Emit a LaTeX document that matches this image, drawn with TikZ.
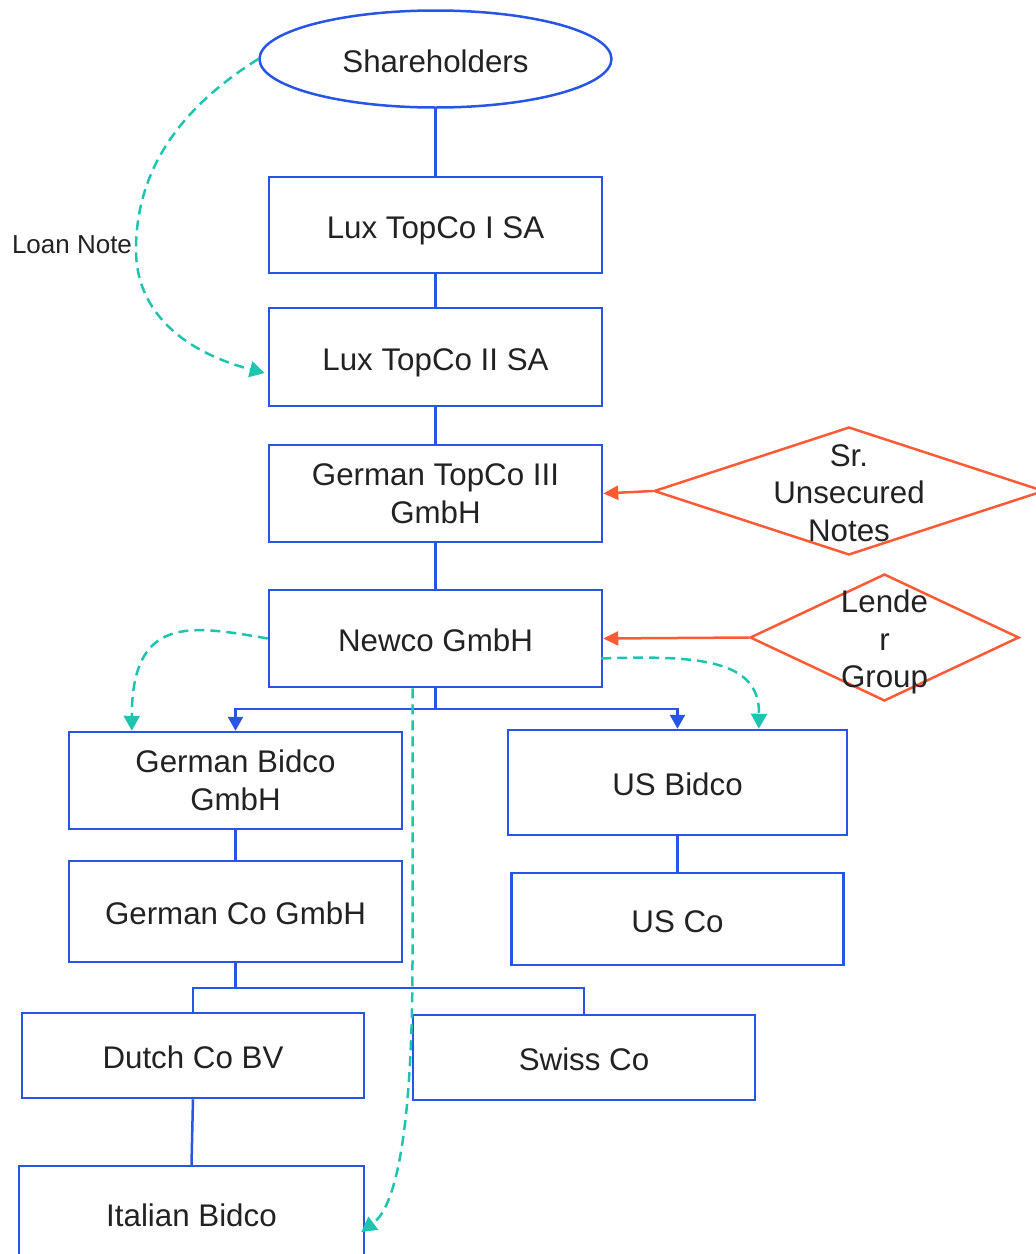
\documentclass[tikz,border=0pt]{standalone}
\usepackage{fontspec}
\setmainfont{Liberation Sans}
\usetikzlibrary{shapes.geometric,arrows.meta,calc}
\definecolor{entblue}{HTML}{2756E6}
\definecolor{noteorange}{HTML}{FF5A36}
\definecolor{loanteal}{HTML}{1EC4B0}
\definecolor{inktext}{HTML}{222222}
\begin{document}
\begin{tikzpicture}[x=1pt,y=-1pt,
  entity/.style={draw=entblue, line width=2.5pt, rectangle, inner sep=0pt,
    text=inktext, align=center, font=\fontsize{31.3}{37.5}\selectfont},
  oneline/.style={text height=33.3pt, text depth=6.6pt},
  holder/.style={entity, ellipse},
  source/.style={draw=noteorange, line width=2.5pt, diamond, inner sep=0pt},
  srctext/.style={text=inktext, align=center, inner sep=0pt,
    font=\fontsize{31.3}{37.5}\selectfont},
  own/.style={draw=entblue, line width=2.5pt},
  ownarrow/.style={own, -{Triangle[length=14pt,width=15pt]}},
  fund/.style={draw=noteorange, line width=2.5pt, -{Triangle[length=15pt,width=14pt]}},
  loan/.style={draw=loanteal, line width=2.5pt, dash pattern=on 10pt off 6pt,
    -{Triangle[length=15pt,width=16pt]}},
]
\useasboundingbox (0,0) rectangle (1036,1254);

% ownership chain
\node[holder, oneline, minimum width=352pt, minimum height=97pt] (share) at (435.5,59) {Shareholders};
\node[entity, oneline, minimum width=333pt, minimum height=96pt] (lux1) at (435.5,225) {Lux TopCo I SA};
\node[entity, oneline, minimum width=333pt, minimum height=98pt] (lux2) at (435.5,357) {Lux TopCo II SA};
\node[entity, minimum width=333pt, minimum height=97pt] (topco3) at (435.5,493.5) {German TopCo III\\GmbH};
\node[entity, oneline, minimum width=333pt, minimum height=97pt] (newco) at (435.5,638.5) {Newco GmbH};
\node[entity, minimum width=333pt, minimum height=97pt] (gbid) at (235.5,780.5) {German Bidco\\GmbH};
\node[entity, oneline, minimum width=339pt, minimum height=105pt] (usbid) at (677.5,782.5) {US Bidco};
\node[entity, oneline, minimum width=333pt, minimum height=101pt] (gco) at (235.5,911.5) {German Co GmbH};
\node[entity, oneline, minimum width=332pt, minimum height=92pt] (usco) at (677.5,919) {US Co};
\node[entity, oneline, minimum width=342pt, minimum height=85pt] (dutch) at (193,1055.5) {Dutch Co BV};
\node[entity, oneline, minimum width=342pt, minimum height=85pt] (swiss) at (584,1057.5) {Swiss Co};
\node[entity, oneline, minimum width=345pt, minimum height=94pt] (ital) at (191.5,1213) {Italian Bidco};

% external financing sources
\node[source, minimum width=390pt, minimum height=128pt] (snotes) at (849,491) {};
\node[srctext] (snotestxt) at (849,493) {Sr.\\Unsecured\\Notes};
\node[source, minimum width=269pt, minimum height=127pt] (lenders) at (884.5,637.5) {};
\node[srctext] (lenderstxt) at (884.5,642) {Lende\\r\\Group};

% ownership lines
\draw[own] (share.south) -- (lux1.north);
\draw[own] (lux1.south) -- (lux2.north);
\draw[own] (lux2.south) -- (topco3.north);
\draw[own] (topco3.south) -- (newco.north);
\coordinate (nsplit) at (435.5,709);
\draw[own] (newco.south) -- (nsplit);
\draw[ownarrow] (nsplit) -| (gbid.north);
\draw[ownarrow] (nsplit) -| (usbid.north);
\draw[own] (gbid.south) -- (gco.north);
\draw[own] (usbid.south) -- (usco.north);
\coordinate (gsplit) at (235.5,988);
\draw[own] (gco.south) -- (gsplit);
\draw[own] (gsplit) -| (dutch.north);
\draw[own] (gsplit) -| (swiss.north);
\draw[own] (dutch.south) -- (ital.north);

% financing arrows
\draw[fund] (snotes.west) -- (topco3.east);
\draw[fund] (lenders.west) -- (newco.east);

% intercompany loans
\node[text=inktext, font=\fontsize{26}{30}\selectfont, inner sep=0pt] (loanlbl) at (72,245) {Loan Note};
\draw[loan] (share.west) .. controls (180,108) and (136,170) .. (136,250)
  .. controls (136,312) and (184,352) .. ($(lux2.west)+(-3,16)$);
\draw[loan] (newco.west) .. controls (190,625) and (132,615) .. ($(gbid.north west)+(64,0)$);
\draw[loan] ($(newco.east)+(-2,20)$) .. controls (700,655) and (760,660) .. ($(usbid.north west)+(252,0)$);
\draw[loan] ($(newco.south)+(-23,0)$) -- (412.5,960)
  .. controls (412.5,1120) and (398,1205) .. ($(ital.east)+(-4,19)$);
\end{tikzpicture}
\end{document}
